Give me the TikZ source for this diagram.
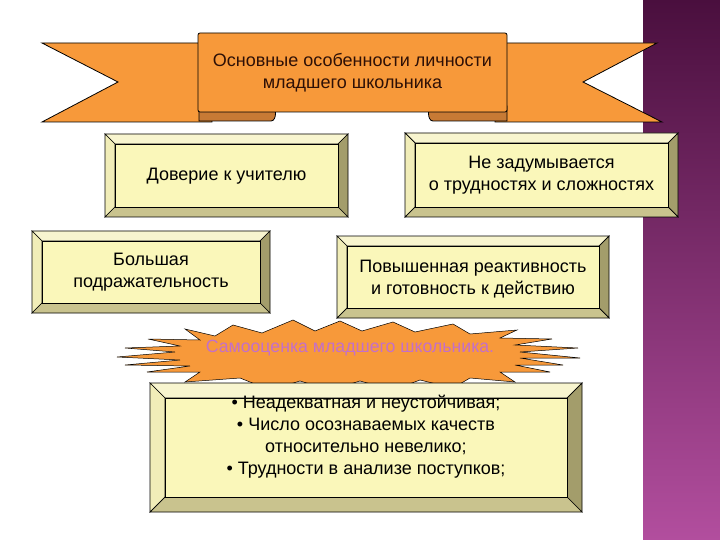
\documentclass[tikz,border=0pt]{standalone}
\usepackage{fontspec}
\setmainfont{Liberation Sans}
\definecolor{orng}{HTML}{F7993A}
\definecolor{foldc}{HTML}{C77A35}
\definecolor{face}{HTML}{FAF7BA}
\definecolor{bvtop}{HTML}{F8F5CF}
\definecolor{bvleft}{HTML}{F1EDB8}
\definecolor{bvright}{HTML}{A39D6B}
\definecolor{bvbot}{HTML}{C9C38E}
\definecolor{ptop}{HTML}{4A0F3E}
\definecolor{pbot}{HTML}{B24E9E}
\definecolor{burstTxt}{HTML}{C46FC8}
\definecolor{ttl}{HTML}{2E1006}
\tikzset{
  bvline/.style={draw=black,line width=0.7pt},
  boxface/.style={draw=black,line width=0.7pt,fill=face,inner sep=0pt},
  boxtext/.style={align=center,inner sep=0pt,font=\fontsize{18}{22}\selectfont},
  ribbon/.style={fill=orng,draw=black,line width=0.8pt},
  foldpart/.style={fill=foldc,draw=black,line width=0.8pt},
}
\newcommand\bevbox[8]{%
 \filldraw[bvline,fill=bvtop] (#2,#3) -- (#4,#3) -- ({#4-#6},{#3+#6}) -- ({#2+#6},{#3+#6}) -- cycle;
 \filldraw[bvline,fill=bvleft] (#2,#3) -- ({#2+#6},{#3+#6}) -- ({#2+#6},{#5-#6}) -- (#2,#5) -- cycle;
 \filldraw[bvline,fill=bvright] (#4,#3) -- (#4,#5) -- ({#4-#6},{#5-#6}) -- ({#4-#6},{#3+#6}) -- cycle;
 \filldraw[bvline,fill=bvbot] (#2,#5) -- (#4,#5) -- ({#4-#6},{#5-#6}) -- ({#2+#6},{#5-#6}) -- cycle;
 \node[boxface, minimum width={#4-#2-2*#6}, minimum height={#5-#3-2*#6}] (#1) at ({(#2+#4)/2},{(#3+#5)/2}) {};
 \node[boxtext] (#1t) at ({(#2+#4)/2},{(#3+#5)/2+#8}) {#7};
}
\begin{document}
\begin{tikzpicture}[x=1pt,y=-1pt,line join=miter]
\useasboundingbox (0,0) rectangle (720,540);
\fill[white] (0,0) rectangle (720,540);
\shade[top color=ptop,bottom color=pbot] (643,0) rectangle (720,540);
% ribbon tails
\filldraw[ribbon] (42,43) -- (212,43) -- (212,122) -- (42,122) -- (118,82) -- cycle;
\filldraw[ribbon] (495,43) -- (657,43) -- (583,82) -- (662,122) -- (495,122) -- cycle;
% folds
\filldraw[foldpart] (199,106) -- (271,106) .. controls (277,106) and (277,121) .. (271,121) -- (199,121) -- cycle;
\filldraw[foldpart] (507,106) -- (433,106) .. controls (427,106) and (427,121) .. (433,121) -- (507,121) -- cycle;
% banner
\node[ribbon,rounded corners=2pt,minimum width=309,minimum height=79,inner sep=0pt,align=center,
      text=ttl,font=\fontsize{18}{22}\selectfont] (title) at (352.5,72.5)
      {Основные особенности личности\\младшего школьника};
% boxes
\bevbox{dover}{105}{134}{348}{217}{10}{Доверие к учителю}{1}
\bevbox{bolsh}{32}{231}{270}{313}{10}{Большая\\подражательность}{0}
\bevbox{nezad}{405}{133}{678}{217}{10}{Не задумывается\\о трудностях и сложностях}{0}
\bevbox{povysh}{337}{236}{609}{318}{10}{Повышенная реактивность\\и готовность к действию}{2}
% burst
\filldraw[fill=orng,draw=black,line width=0.5pt]
 (117,357) -- (175,352) -- (125,348) -- (180,346) -- (148,339) -- (200,340) -- (185,329)
 -- (215,336) -- (233,325) -- (262,333) -- (293,320) -- (315,331) -- (340,321) -- (362,331)
 -- (393,322) -- (415,332) -- (453,324) -- (470,334) -- (517,330) -- (500,338) -- (552,339)
 -- (515,345) -- (578,348) -- (520,352) -- (580,358) -- (520,358) -- (563,365) -- (515,365)
 -- (550,372) -- (500,372) -- (515,382) -- (470,378) -- (453,388) -- (420,380) -- (393,390)
 -- (360,381) -- (330,390) -- (300,381) -- (270,390) -- (240,378) -- (185,382) -- (200,372)
 -- (147,372) -- (190,366) -- (125,365) -- (180,360) -- cycle;
\node[text=burstTxt,font=\fontsize{17.7}{21}\selectfont,inner sep=0pt] (burst) at (350,348) {Самооценка младшего школьника.};
% bottom box
\bevbox{bottom}{150}{383}{582}{512}{15}{• Неадекватная и неустойчивая;\\• Число осознаваемых качеств\\относительно невелико;\\• Трудности в анализе поступков;}{-11}
\end{tikzpicture}
\end{document}
